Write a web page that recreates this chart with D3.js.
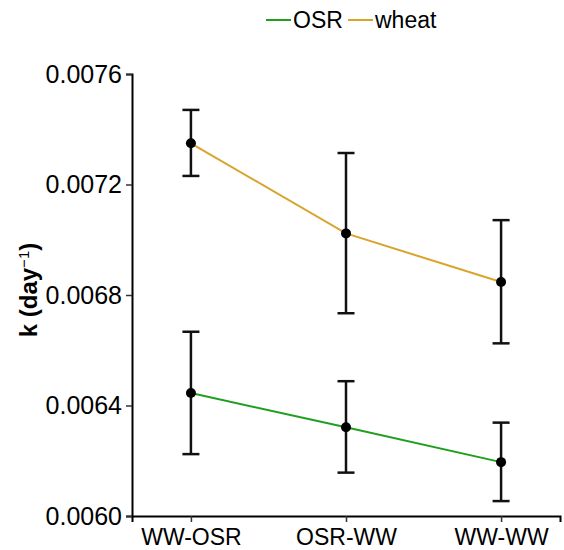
<!DOCTYPE html>
<html>
<head>
<meta charset="utf-8">
<script src="https://cdn.jsdelivr.net/npm/d3@7"></script>
<style>
  body { margin: 0; background: #fff; }
  text { font-family: "Liberation Sans", Arial, sans-serif; }
</style>
</head>
<body>
<svg id="chart" width="564" height="550"></svg>
<script>
// categories and series (mean, lower, upper)
const rotations = ["WW-OSR", "OSR-WW", "WW-WW"];
const osrMean = [0.006445, 0.006321, 0.006195];
const osrLow = [0.006224, 0.006157, 0.006054];
const osrHigh = [0.006667, 0.006488, 0.006338];
const wheatMean = [0.007349, 0.007023, 0.006847];
const wheatLow = [0.007231, 0.006734, 0.006625];
const wheatHigh = [0.007470, 0.007314, 0.007071];
const yTicks = [0.0060, 0.0064, 0.0068, 0.0072, 0.0076];

const series = [
  { name: "OSR", color: "#1f9e1f", mean: osrMean, low: osrLow, high: osrHigh },
  { name: "wheat", color: "#d9a42b", mean: wheatMean, low: wheatLow, high: wheatHigh }
];

const svg = d3.select('#chart');
const plotLeft = 132, plotRight = 560, plotTop = 74, plotBottom = 516;

const x = d3.scalePoint()
  .domain(rotations)
  .range([plotLeft, plotRight])
  .padding(0.38);

const y = d3.scaleLinear()
  .domain([0.0060, 0.0076])
  .range([plotBottom, plotTop]);

// axes
const xAxis = svg.append('g')
  .attr('transform', `translate(0, ${plotBottom})`)
  .call(d3.axisBottom(x).tickSizeOuter(0).tickSize(6).tickPadding(7));

const yAxis = svg.append('g')
  .attr('transform', `translate(${plotLeft}, 0)`)
  .call(d3.axisLeft(y).tickValues(yTicks).tickFormat(d3.format('.4f')).tickSizeOuter(0).tickSize(6).tickPadding(4));

[xAxis, yAxis].forEach(g => {
  g.select('.domain').attr('stroke', '#000').attr('stroke-width', 2);
  g.selectAll('.tick line').attr('stroke', '#333').attr('stroke-width', 1.5);
  g.selectAll('.tick text').attr('fill', '#000');
});
xAxis.selectAll('.tick text').style('font-size', '23px');
yAxis.selectAll('.tick text').style('font-size', '25px');

// y title
svg.append('text')
  .attr('transform', `translate(37, 290) rotate(-90)`)
  .attr('text-anchor', 'middle')
  .style('font-size', '24px')
  .style('font-weight', 'bold')
  .html('k (day<tspan baseline-shift="super" font-size="15px" font-weight="normal">\u22121</tspan>)');

// lines
const line = d3.line()
  .x(d => x(d.cat))
  .y(d => y(d.v));

series.forEach(s => {
  const pts = rotations.map((c, i) => ({ cat: c, v: s.mean[i], lo: s.low[i], hi: s.high[i] }));

  svg.append('path')
    .datum(pts)
    .attr('d', line)
    .attr('fill', 'none')
    .attr('stroke', s.color)
    .attr('stroke-width', 2);

  const eb = svg.append('g').selectAll('g').data(pts).enter().append('g');
  eb.append('line')
    .attr('x1', d => x(d.cat)).attr('x2', d => x(d.cat))
    .attr('y1', d => y(d.lo)).attr('y2', d => y(d.hi))
    .attr('stroke', '#111').attr('stroke-width', 2.5);
  eb.append('line')
    .attr('x1', d => x(d.cat) - 8.5).attr('x2', d => x(d.cat) + 8.5)
    .attr('y1', d => y(d.lo)).attr('y2', d => y(d.lo))
    .attr('stroke', '#111').attr('stroke-width', 2.5);
  eb.append('line')
    .attr('x1', d => x(d.cat) - 8.5).attr('x2', d => x(d.cat) + 8.5)
    .attr('y1', d => y(d.hi)).attr('y2', d => y(d.hi))
    .attr('stroke', '#111').attr('stroke-width', 2.5);

  svg.append('g').selectAll('circle').data(pts).enter().append('circle')
    .attr('cx', d => x(d.cat))
    .attr('cy', d => y(d.v))
    .attr('r', 5)
    .attr('fill', '#000');
});

// legend
const legend = svg.append('g').attr('transform', 'translate(266, 20)');
const legendX = [0, 82];
const entries = legend.selectAll('g').data(series).enter().append('g')
  .attr('transform', (d, i) => `translate(${legendX[i]}, 0)`);
entries.append('line')
  .attr('x1', 0).attr('x2', 25)
  .attr('stroke', d => d.color).attr('stroke-width', 2);
entries.append('text')
  .attr('x', 27)
  .attr('dy', '0.35em')
  .style('font-size', '23px')
  .text(d => d.name);
</script>
</body>
</html>
